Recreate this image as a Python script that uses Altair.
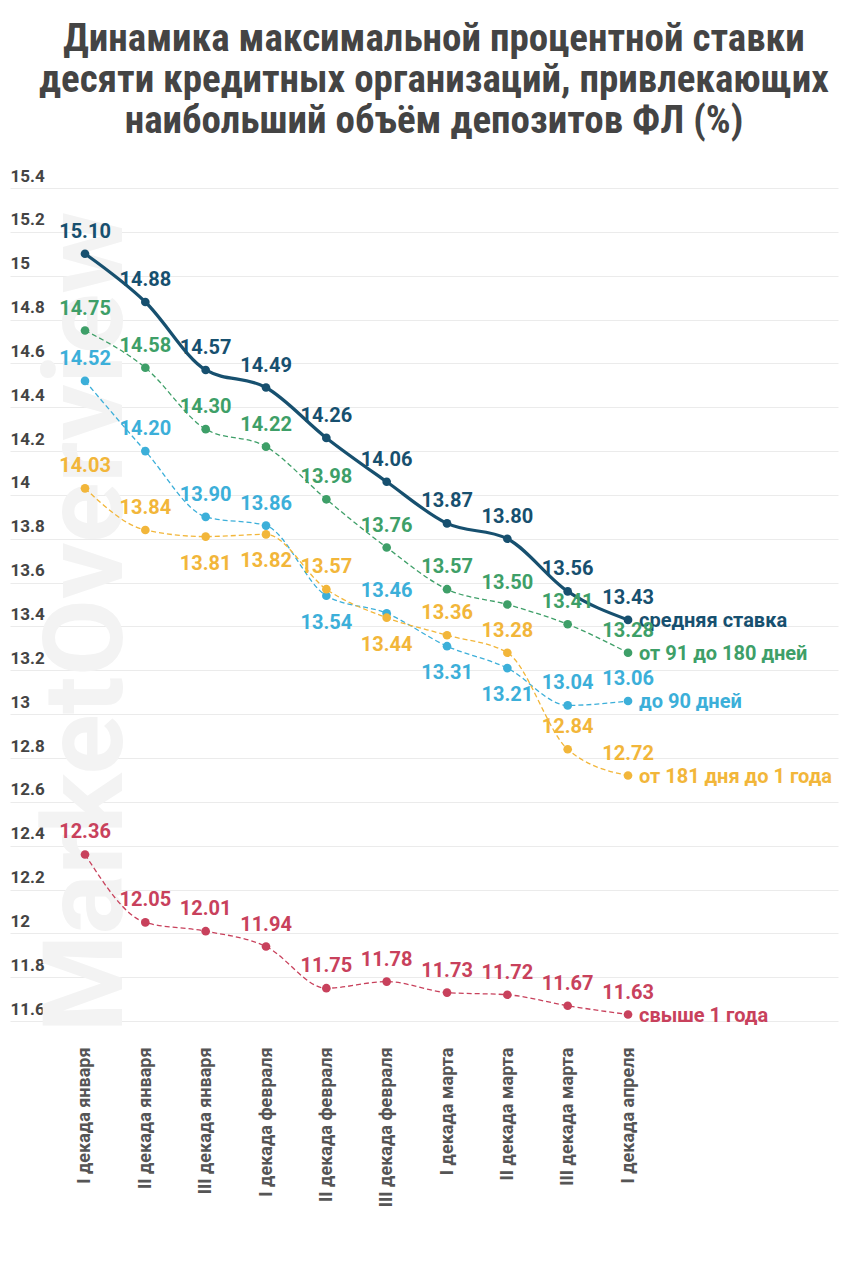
import altair as alt
import pandas as pd

# Периоды (ось X)
periods = [
    "I декада января", "II декада января", "III декада января",
    "I декада февраля", "II декада февраля", "III декада февраля",
    "I декада марта", "II декада марта", "III декада марта",
    "I декада апреля",
]

# Ряды данных (%)
avg_rate = [15.10, 14.88, 14.57, 14.49, 14.26, 14.06, 13.87, 13.80, 13.56, 13.43]
rate_91_180 = [14.75, 14.58, 14.30, 14.22, 13.98, 13.76, 13.57, 13.50, 13.41, 13.28]
rate_to_90 = [14.52, 14.20, 13.90, 13.86, 13.54, 13.46, 13.31, 13.21, 13.04, 13.06]
rate_181_1y = [14.03, 13.84, 13.81, 13.82, 13.57, 13.44, 13.36, 13.28, 12.84, 12.72]
rate_over_1y = [12.36, 12.05, 12.01, 11.94, 11.75, 11.78, 11.73, 11.72, 11.67, 11.63]

series_names = ["средняя ставка", "от 91 до 180 дней", "до 90 дней",
                "от 181 дня до 1 года", "свыше 1 года"]
series_values = [avg_rate, rate_91_180, rate_to_90, rate_181_1y, rate_over_1y]

y_ticks = [15.4, 15.2, 15.0, 14.8, 14.6, 14.4, 14.2, 14.0, 13.8, 13.6, 13.4,
           13.2, 13.0, 12.8, 12.6, 12.4, 12.2, 12.0, 11.8, 11.6]

# Оформление
colors = ["#17506f", "#3e9f68", "#3cafd9", "#f2b63a", "#c8415c"]
# подписи, которые стоят под точкой, а не над ней
label_below = {"до 90 дней": [4, 6, 7], "от 181 дня до 1 года": [2, 3, 5]}

rows = []
for name, vals in zip(series_names, series_values):
    for i, v in enumerate(vals):
        rows.append({
            "idx": i,
            "Период": periods[i],
            "Серия": name,
            "Ставка": v,
            "below": i in label_below.get(name, []),
            "last": i == len(vals) - 1,
        })
df = pd.DataFrame(rows)

font = "Roboto"
# индекс периода -> подпись; сетка должна идти на всю ширину, поэтому шкала числовая
period_expr = "[" + ", ".join("'%s'" % p for p in periods) + "][datum.value]"
x_enc = alt.X("idx:Q",
              scale=alt.Scale(domain=[-1.243, 12.48], nice=False, zero=False),
              axis=alt.Axis(title=None, values=list(range(len(periods))),
                            labelExpr=period_expr, labelAngle=270,
                            labelAlign="right", labelBaseline="middle",
                            labelFont=font, labelFontSize=18,
                            labelFontWeight="bold", labelColor="#555555",
                            labelPadding=4, domain=False, ticks=False,
                            grid=False))
y_enc = alt.Y("Ставка:Q",
              scale=alt.Scale(domain=[11.5, 15.4], nice=False, zero=False),
              axis=alt.Axis(title=None, values=y_ticks, format="~g",
                            labelAlign="left", labelBaseline="bottom",
                            labelOffset=-3, labelPadding=0, labelFont=font,
                            labelFontSize=17, labelFontWeight="bold",
                            labelColor="#444444", domain=False, ticks=False,
                            tickSize=0, gridColor="#ebebeb"))
color_enc = alt.Color("Серия:N", scale=alt.Scale(domain=series_names, range=colors),
                      legend=None)

base = alt.Chart(df)

# водяной знак
watermark = alt.Chart(pd.DataFrame({"t": ["MarketOverview"]})).mark_text(
    angle=270, font=font, fontSize=112, fontWeight="bold", color="#f3f3f3",
    align="center", baseline="middle"
).encode(x=alt.value(78), y=alt.value(434), text="t:N")

avg_line = base.transform_filter(alt.datum["Серия"] == series_names[0]).mark_line(
    interpolate="monotone", strokeWidth=3.2
).encode(x=x_enc, y=y_enc, color=color_enc)

other_lines = base.transform_filter(alt.datum["Серия"] != series_names[0]).mark_line(
    interpolate="monotone", strokeWidth=1.3, strokeDash=[5, 3]
).encode(x=x_enc, y=y_enc, color=color_enc, detail="Серия:N")

points = base.mark_circle(size=75, opacity=1).encode(x=x_enc, y=y_enc, color=color_enc)

labels_above = base.transform_filter(~alt.datum.below).mark_text(
    font=font, fontSize=20, fontWeight="bold", baseline="alphabetic", dy=-16
).encode(x=x_enc, y=y_enc, color=color_enc, text=alt.Text("Ставка:Q", format=".2f"))

labels_below = base.transform_filter(alt.datum.below).mark_text(
    font=font, fontSize=20, fontWeight="bold", baseline="alphabetic", dy=33
).encode(x=x_enc, y=y_enc, color=color_enc, text=alt.Text("Ставка:Q", format=".2f"))

end_names = base.transform_filter(alt.datum.last).mark_text(
    font=font, fontSize=20, fontWeight="bold", align="left", baseline="middle", dx=11, dy=1
).encode(x=x_enc, y=y_enc, color=color_enc, text="Серия:N")

chart = alt.layer(
    watermark, other_lines, avg_line, points, end_names, labels_above, labels_below
).properties(
    width=828,
    height=855,
    padding={"left": 2, "top": 12, "right": 10, "bottom": 10},
    title=alt.TitleParams(
        text=["Динамика максимальной процентной ставки",
              "десяти кредитных организаций, привлекающих",
              "наибольший объём депозитов ФЛ (%)"],
        font="Liberation Sans Narrow, Roboto Condensed, Roboto",
        fontSize=39, fontWeight="bold", color="#444444",
        anchor="middle", lineHeight=41, offset=26, dx=10,
    ),
    background="white",
).configure_view(stroke=None)

chart.save("out.html", embed_options={"renderer": "svg", "actions": False})
